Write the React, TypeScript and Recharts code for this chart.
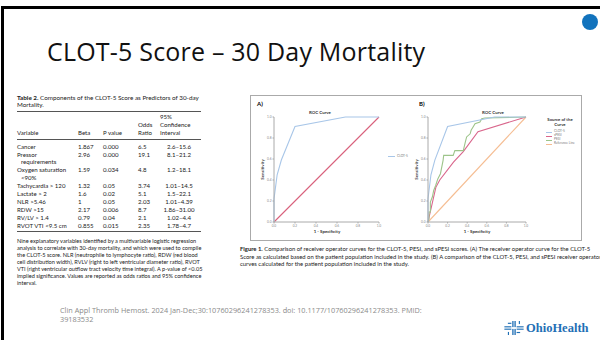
import React from 'react';
import { LineChart, Line, XAxis, YAxis } from 'recharts';

// ROC curves (false positive rate -> sensitivity)
const clot5Fpr = [0, 0, 0.03, 0.07, 0.2, 0.68, 1];
const clot5Tpr = [0, 0.22, 0.45, 0.59, 0.91, 1, 1];

const spesiFpr = [0, 0.08, 0.12, 0.26, 0.36, 0.51, 1];
const spesiTpr = [0, 0.33, 0.4, 0.57, 0.67, 0.86, 1];

const pesiFpr = [0, 0.01, 0.01, 0.024, 0.024, 0.045, 0.058, 0.079, 0.1, 0.127, 0.154, 0.16, 0.257, 0.274, 0.36, 0.377, 0.394, 0.43, 0.44, 0.46, 0.48, 0.53, 0.548, 0.58, 1];
const pesiTpr = [0, 0.03, 0.095, 0.095, 0.19, 0.24, 0.3, 0.35, 0.41, 0.46, 0.587, 0.635, 0.635, 0.68, 0.68, 0.746, 0.81, 0.84, 0.873, 0.905, 0.937, 0.952, 0.984, 0.99, 1];

const refFpr = [0, 1];
const refTpr = [0, 1];

const axisTicks = [0, 0.2, 0.4, 0.6, 0.8, 1.0];

const seriesNames = ['CLOT-5', 'sPESI', 'PESI', 'Reference Line'];
const seriesColors = ['#a8c6e8', '#d9668c', '#9dc48a', '#f5bd92'];
const refColorA = '#d9607c';

// Table 2
const tableVariables = [
  ['Cancer'],
  ['Pressor', 'requirements'],
  ['Oxygen saturation', '<90%'],
  ['Tachycardia > 120'],
  ['Lactate > 2'],
  ['NLR >5.46'],
  ['RDW >15'],
  ['RV/LV > 1.4'],
  ['RVOT VTI <9.5 cm'],
];
const tableBeta = ['1.867', '2.96', '1.59', '1.32', '1.6', '1', '2.17', '0.79', '0.855'];
const tablePValues = ['0.000', '0.000', '0.034', '0.05', '0.02', '0.05', '0.006', '0.04', '0.015'];
const tableOdds = ['6.5', '19.1', '4.8', '3.74', '5.1', '2.03', '8.7', '2.1', '2.35'];
const tableCI = ['2.6–15.6', '8.1–21.2', '1.2–18.1', '1.01–14.5', '1.5–22.1', '1.01–4.39', '1.86–31.00', '1.02–4.4', '1.78–4.7'];

const tableCaption = ['Table 2.', ' Components of the CLOT-5 Score as Predictors of 30-day', 'Mortality.'];
const tableNote = [
  'Nine explanatory variables identified by a multivariable logistic regression',
  'analysis to correlate with 30-day mortality, and which were used to compile',
  'the CLOT-5 score. NLR (neutrophile to lymphocyte ratio), RDW (red blood',
  'cell distribution width), RVLV (right to left ventricular diameter ratio), RVOT',
  'VTI (right ventricular outflow tract velocity time integral). A p-value of <0.05',
  'implied significance. Values are reported as odds ratios and 95% confidence',
  'interval.',
];
const figureCaption = [
  ' Comparison of receiver operator curves for the CLOT-5, PESI, and sPESI scores. (A) The receiver operator curve for the CLOT-5',
  'Score as calculated based on the patient population included in the study. (B) A comparison of the CLOT-5, PESI, and sPESI receiver operator',
  'curves calculated for the patient population included in the study.',
];
const citation = [
  'Clin Appl Thromb Hemost. 2024 Jan-Dec;30:10760296241278353. doi: 10.1177/10760296241278353. PMID:',
  '39183532',
];

const toPoints = (xs: number[], ys: number[]) => xs.map((x, i) => ({ x, y: ys[i] }));

const tableFont = 'Lato, "Open Sans", sans-serif';

function Txt({ x, y, size, children, style }: { x: number; y: number; size: number; children: React.ReactNode; style?: React.CSSProperties }) {
  return (
    <div style={{ position: 'absolute', left: x, top: y - size * 0.55, fontSize: size, lineHeight: `${size * 1.1}px`, whiteSpace: 'nowrap', ...style }}>
      {children}
    </div>
  );
}

interface Series { name: string; color: string; xs: number[]; ys: number[] }

function RocChart({ left, top, width, marginLeft, series }: { left: number; top: number; width: number; marginLeft: number; series: Series[] }) {
  return (
    <div style={{ position: 'absolute', left, top }}>
      <LineChart width={width} height={138} margin={{ top: 17, right: 4, bottom: 0, left: marginLeft }}>
        <XAxis
          type="number"
          dataKey="x"
          domain={[0, 1]}
          ticks={axisTicks}
          tickFormatter={(v) => v.toFixed(1)}
          tick={{ fontSize: 3.2, fill: '#888' }}
          stroke="#aaa"
          tickSize={1.5}
          tickMargin={1}
          height={16}
        />
        <YAxis
          type="number"
          dataKey="y"
          domain={[0, 1]}
          ticks={axisTicks}
          tickFormatter={(v) => v.toFixed(1)}
          tick={{ fontSize: 3.2, fill: '#888' }}
          stroke="#aaa"
          tickSize={1.5}
          tickMargin={1}
          width={12}
        />
        {series.map((s) => (
          <Line
            key={s.name}
            name={s.name}
            data={toPoints(s.xs, s.ys)}
            dataKey="y"
            type="linear"
            stroke={s.color}
            strokeWidth={1.1}
            dot={false}
            activeDot={false}
            isAnimationActive={false}
          />
        ))}
      </LineChart>
    </div>
  );
}

function OhioLogo() {
  const blue = '#1f6fb5';
  return (
    <div style={{ position: 'absolute', left: 504, top: 321, display: 'flex', alignItems: 'center' }}>
      <svg width={20} height={14} viewBox="0 0 22 16">
        <g fill={blue}>
          <rect x={9} y={0} width={1.5} height={7} />
          <rect x={11.5} y={0} width={1.5} height={7} />
          <rect x={9} y={9} width={1.5} height={7} />
          <rect x={11.5} y={9} width={1.5} height={7} />
          <rect x={0} y={6} width={8} height={1.3} />
          <rect x={0} y={8.7} width={8} height={1.3} />
          <rect x={14} y={6} width={8} height={1.3} />
          <rect x={14} y={8.7} width={8} height={1.3} />
          <rect x={4} y={2} width={4} height={1.3} />
          <rect x={14} y={12.5} width={4} height={1.3} />
          <rect x={4} y={12.5} width={1.3} height={3.5} />
          <rect x={16.5} y={0} width={1.3} height={3.5} />
        </g>
      </svg>
      <span style={{ marginLeft: 2, fontFamily: '"Liberation Serif", serif', fontWeight: 700, fontSize: 12.5, lineHeight: '14px', color: blue }}>OhioHealth</span>
    </div>
  );
}

export default function App() {
  const rowY = (i: number) => 147 + i * 7.9;
  // rows with wrapped variable names take two lines
  const rowStarts: number[] = [];
  let line = 0;
  tableVariables.forEach((v) => {
    rowStarts.push(line);
    line += v.length;
  });
  const seriesB: Series[] = [
    { name: seriesNames[3], color: seriesColors[3], xs: refFpr, ys: refTpr },
    { name: seriesNames[1], color: seriesColors[1], xs: spesiFpr, ys: spesiTpr },
    { name: seriesNames[2], color: seriesColors[2], xs: pesiFpr, ys: pesiTpr },
    { name: seriesNames[0], color: seriesColors[0], xs: clot5Fpr, ys: clot5Tpr },
  ];
  const seriesA: Series[] = [
    { name: 'Reference', color: refColorA, xs: refFpr, ys: refTpr },
    { name: seriesNames[0], color: seriesColors[0], xs: clot5Fpr, ys: clot5Tpr },
  ];
  const tf = { fontFamily: tableFont, color: '#222' };
  const colX = { beta: 78, p: 103, odds: 138, ci: 160 };
  const cell = 6.1;

  return (
    <div style={{ position: 'absolute', left: 0, top: 0, width: 600, height: 340, background: '#fff', overflow: 'hidden', fontFamily: tableFont }}>
      <div style={{ position: 'absolute', left: 1, top: 6, width: 620, height: 360, borderTop: '3px solid #000', borderLeft: '3px solid #000' }} />
      <div style={{ position: 'absolute', left: 582, top: 14, width: 16, height: 16, borderRadius: 8, background: '#1273bd' }} />

      <Txt x={47} y={52} size={25} style={{ fontFamily: '"Open Sans", sans-serif', color: '#111', letterSpacing: 0.2 }}>
        CLOT-5 Score – 30 Day Mortality
      </Txt>

      {/* Table 2 */}
      <Txt x={17} y={98} size={6.3} style={tf}>
        <b>{tableCaption[0]}</b>{tableCaption[1]}
      </Txt>
      <Txt x={17} y={105} size={6.3} style={tf}>{tableCaption[2]}</Txt>
      <div style={{ position: 'absolute', left: 17, top: 111, width: 184, borderTop: '0.6px solid #555' }} />
      <Txt x={colX.ci} y={117} size={cell} style={tf}>95%</Txt>
      <Txt x={colX.odds} y={125} size={cell} style={tf}>Odds</Txt>
      <Txt x={colX.ci} y={125} size={cell} style={tf}>Confidence</Txt>
      <Txt x={17} y={133} size={cell} style={tf}>Variable</Txt>
      <Txt x={colX.beta} y={133} size={cell} style={tf}>Beta</Txt>
      <Txt x={colX.p} y={133} size={cell} style={tf}>P value</Txt>
      <Txt x={colX.odds} y={133} size={cell} style={tf}>Ratio</Txt>
      <Txt x={colX.ci} y={133} size={cell} style={tf}>Interval</Txt>
      <div style={{ position: 'absolute', left: 17, top: 139, width: 184, borderTop: '0.6px solid #555' }} />
      {tableVariables.map((v, i) => (
        <React.Fragment key={v[0]}>
          {v.map((t, j) => (
            <Txt key={t} x={j ? 21 : 17} y={rowY(rowStarts[i] + j)} size={cell} style={tf}>{t}</Txt>
          ))}
          <Txt x={colX.beta} y={rowY(rowStarts[i])} size={cell} style={tf}>{tableBeta[i]}</Txt>
          <Txt x={colX.p} y={rowY(rowStarts[i])} size={cell} style={tf}>{tablePValues[i]}</Txt>
          <Txt x={colX.odds} y={rowY(rowStarts[i])} size={cell} style={tf}>{tableOdds[i]}</Txt>
          <div style={{ position: 'absolute', left: 157, width: 44, top: rowY(rowStarts[i]) - cell * 0.55, fontSize: cell, lineHeight: `${cell * 1.1}px`, textAlign: 'center', ...tf }}>{tableCI[i]}</div>
        </React.Fragment>
      ))}
      <div style={{ position: 'absolute', left: 17, top: rowY(line) - 3, width: 184, borderTop: '0.6px solid #555' }} />
      {tableNote.map((t, i) => (
        <Txt key={t} x={17} y={241 + i * 7} size={5.6} style={tf}>{t}</Txt>
      ))}

      <div style={{ position: 'absolute', left: 60, top: 306, fontSize: 7.3, lineHeight: '8.6px', fontFamily: '"Open Sans", sans-serif', color: '#8a8a8a', whiteSpace: 'nowrap' }}>
        {citation[0]}<br />{citation[1]}
      </div>

      {/* Figure 1 */}
      <div style={{ position: 'absolute', left: 250, top: 95, width: 332, height: 146, border: '1px solid #aaa', boxSizing: 'border-box' }} />
      <Txt x={257} y={104} size={6} style={{ fontFamily: tableFont, fontWeight: 700 }}>A)</Txt>
      <Txt x={419} y={104} size={6} style={{ fontFamily: tableFont, fontWeight: 700 }}>B)</Txt>
      <Txt x={309} y={113} size={4.4} style={{ fontFamily: tableFont, fontWeight: 700, color: '#333' }}>ROC Curve</Txt>
      <Txt x={482} y={113} size={4.4} style={{ fontFamily: tableFont, fontWeight: 700, color: '#333' }}>ROC Curve</Txt>

      <RocChart left={250} top={100} width={133} marginLeft={12} series={seriesA} />
      <RocChart left={410} top={100} width={120} marginLeft={6} series={seriesB} />

      {/* axis titles */}
      {[262, 416].map((x) => (
        <div key={x} style={{ position: 'absolute', left: x - 15, top: 167, width: 30, textAlign: 'center', fontSize: 4.4, lineHeight: '5px', fontWeight: 700, color: '#333', transform: 'rotate(-90deg)' }}>Sensitivity</div>
      ))}
      {[327, 477].map((x) => (
        <div key={x} style={{ position: 'absolute', left: x - 20, top: 229, width: 40, textAlign: 'center', fontSize: 4.4, lineHeight: '5px', fontWeight: 700, color: '#333' }}>1 - Specificity</div>
      ))}

      {/* legends */}
      <div style={{ position: 'absolute', left: 388, top: 156, width: 7, borderTop: `1px solid ${seriesColors[0]}` }} />
      <Txt x={397} y={156.5} size={3.2} style={{ color: '#777' }}>{seriesNames[0]}</Txt>
      <div style={{ position: 'absolute', left: 545, top: 118, width: 30, textAlign: 'center', fontSize: 4.3, lineHeight: '4.6px', fontWeight: 700, color: '#333' }}>Source of the Curve</div>
      {seriesNames.map((n, i) => (
        <React.Fragment key={n}>
          <div style={{ position: 'absolute', left: 546, top: 131.5 + i * 4, width: 6, borderTop: `1px solid ${seriesColors[i]}` }} />
          <Txt x={554} y={132 + i * 4} size={3.2} style={{ color: '#777' }}>{n}</Txt>
        </React.Fragment>
      ))}

      <div style={{ position: 'absolute', left: 240, top: 245, fontSize: 5.9, lineHeight: '7.5px', whiteSpace: 'nowrap', ...tf }}>
        <b>Figure 1.</b>{figureCaption[0]}<br />{figureCaption[1]}<br />{figureCaption[2]}
      </div>

      <OhioLogo />
    </div>
  );
}
